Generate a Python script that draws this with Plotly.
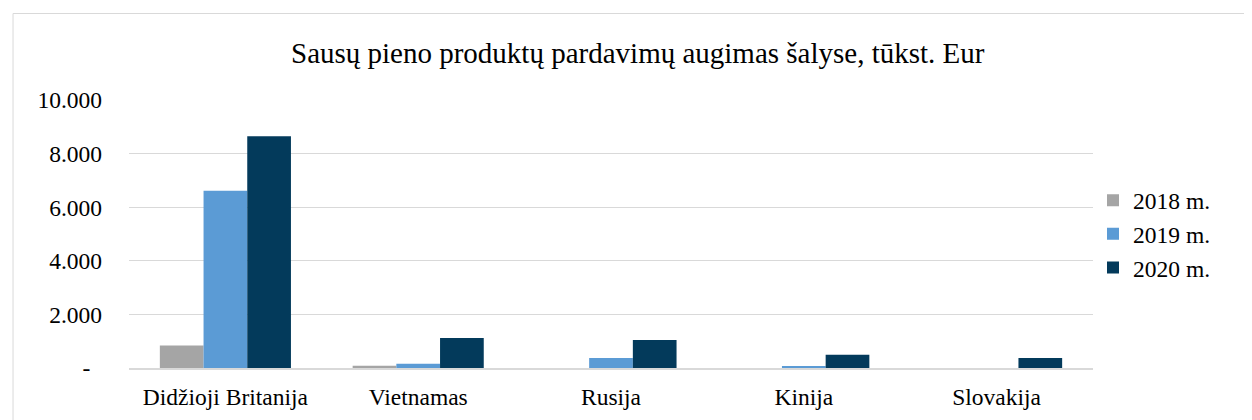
import plotly.graph_objects as go

categories = ["Didžioji Britanija", "Vietnamas", "Rusija", "Kinija", "Slovakija"]
series_names = ["2018 m.", "2019 m.", "2020 m."]
v2018 = [840, 80, 0, 0, 0]
v2019 = [6620, 160, 370, 40, 0]
v2020 = [8650, 1120, 1045, 495, 370]
colors = ["#a5a5a5", "#5b9bd5", "#033a5b"]
tick_vals = [0, 2000, 4000, 6000, 8000, 10000]
tick_text = ["-\u00a0\u00a0", "2.000", "4.000", "6.000", "8.000", "10.000"]

FONT = "Liberation Serif, Times New Roman, serif"

fig = go.Figure()
for name, vals, col in zip(series_names, [v2018, v2019, v2020], colors):
    fig.add_trace(go.Bar(x=categories, y=vals, name=name, marker_color=col,
                         marker_line_width=0))

fig.update_layout(
    width=1252, height=420,
    margin=dict(l=121, r=167, t=92, b=60, autoexpand=False),
    paper_bgcolor="white", plot_bgcolor="white",
    font=dict(family=FONT, size=23.5, color="#000000"),
    barmode="group", bargap=0.32, bargroupgap=0,
    title=dict(text="Sausų pieno produktų pardavimų augimas šalyse, tūkst. Eur",
               x=0.503, xanchor="center", xref="container",
               y=1 - 45 / 420, yanchor="middle", yref="container",
               font=dict(family=FONT, size=29, color="#000000")),
    legend=dict(x=1.0, xanchor="left", y=0.5, yanchor="middle",
                font=dict(family=FONT, size=23.5), tracegroupgap=0,
                bgcolor="rgba(0,0,0,0)"),
    showlegend=True,
)
fig.update_yaxes(range=[0, 10005], tickvals=tick_vals, ticktext=tick_text,
                 showgrid=True, gridcolor="#d9d9d9", gridwidth=1,
                 zeroline=False, showline=False, ticks="",
                 ticklabelstandoff=26, fixedrange=True, automargin=False)
fig.update_xaxes(showline=True, linecolor="#d9d9d9", linewidth=1.5, ticks="",
                 ticklabelstandoff=7, fixedrange=True, automargin=False)

fig.add_shape(type="rect", xref="paper", yref="paper",
              x0=-0.1203, x1=1.1629, y0=-0.3, y1=1.3228,
              line=dict(color="#d9d9d9", width=1), fillcolor="rgba(0,0,0,0)",
              layer="below")

fig.write_html("out.html")
